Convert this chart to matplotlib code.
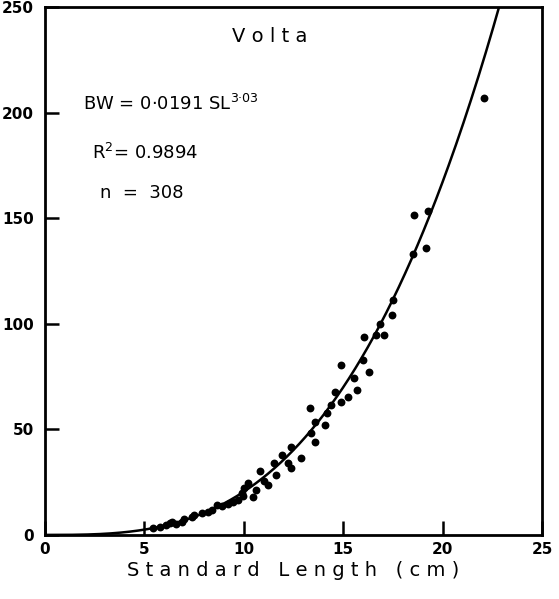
import numpy as np
import matplotlib
matplotlib.use('Agg')
import matplotlib.pyplot as plt

# ──────────────────────────────────────────────
# Data
# ──────────────────────────────────────────────
sl = [5.45, 5.8, 6.1, 6.3, 6.4, 6.6, 6.9, 7.0, 7.4, 7.5,
      7.9, 8.2, 8.4, 8.65, 8.9, 9.2, 9.46, 9.7, 9.9, 9.96,
      10.0, 10.2, 10.46, 10.6, 10.8, 11.0, 11.2, 11.5, 11.6, 11.9,
      12.2, 12.4, 12.4, 12.9, 13.33, 13.4, 13.6, 13.6, 14.1, 14.2,
      14.4, 14.6, 14.9, 14.9, 15.25, 15.55, 15.7, 16.0, 16.05, 16.3,
      16.65, 16.85, 17.05, 17.45, 17.5, 18.51, 18.56, 19.16, 19.27, 22.1]
bw = [3.3, 3.8, 4.7, 5.5, 6.2, 5.2, 6.2, 7.5, 8.5, 9.5,
      10.4, 10.9, 11.8, 14.2, 13.5, 14.8, 15.6, 16.6, 19.9, 18.5,
      22.0, 24.6, 18.0, 21.5, 30.3, 25.5, 23.7, 34.1, 28.5, 37.9,
      34.0, 41.7, 31.8, 36.5, 60.2, 48.3, 53.6, 44.0, 52.0, 57.8,
      61.6, 67.8, 63.0, 80.6, 65.4, 74.4, 68.7, 82.9, 93.8, 77.3,
      94.8, 100.0, 94.8, 104.3, 111.4, 133.2, 151.7, 136.0, 153.6, 207.0]

# fitted power curve as printed on the chart
A, B = 0.0191, 3.03

x_ticks = [0, 5, 10, 15, 20, 25]
y_ticks = [0, 50, 100, 150, 200, 250]

# ──────────────────────────────────────────────
# Plot
# ──────────────────────────────────────────────
fig = plt.figure(figsize=(5.59, 5.99), dpi=100)
ax = fig.add_axes([0.0805, 0.107, 0.889, 0.881])

xf = np.linspace(0, 25, 400)
ax.plot(xf, A * xf ** B, color='black', lw=1.8, zorder=2)
ax.scatter(sl, bw, s=32, color='black', zorder=3, linewidths=0)

ax.set_xlim(0, 25)
ax.set_ylim(0, 250)
ax.set_xticks(x_ticks)
ax.set_yticks(y_ticks)
ax.tick_params(direction='in', length=10, width=1.8, labelsize=11)
ax.tick_params(axis='y', pad=8)
ax.tick_params(axis='x', pad=5)
for lab in ax.get_xticklabels() + ax.get_yticklabels():
    lab.set_fontweight('bold')
for s in ax.spines.values():
    s.set_linewidth(2.0)

ax.set_xlabel('S t a n d a r d   L e n g t h   ( c m )', fontsize=14, labelpad=3)

ax.text(11.3, 236, 'V o l t a', fontsize=14, ha='center', va='center')
ax.text(1.9, 204, r'BW = 0·0191 SL$^{3·03}$', fontsize=13, ha='left', va='center')
ax.text(2.35, 181, r'R$^2$= 0.9894', fontsize=13, ha='left', va='center')
ax.text(2.75, 162, 'n  =  308', fontsize=13, ha='left', va='center')

plt.savefig('out.png', dpi=100)
